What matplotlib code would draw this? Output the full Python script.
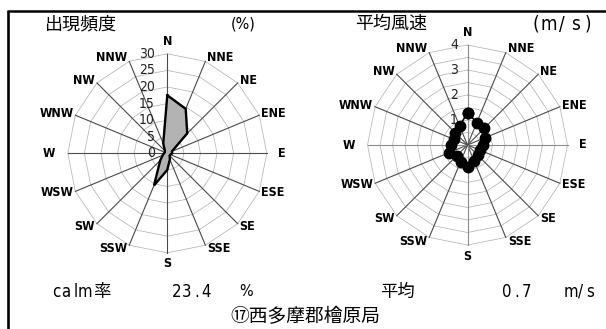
import numpy as np
import matplotlib
matplotlib.use("Agg")
import matplotlib.pyplot as plt
from matplotlib import font_manager
from matplotlib.font_manager import FontProperties
from matplotlib.transforms import offset_copy

# ---------------- data ----------------
directions = ["N", "NNE", "NE", "ENE", "E", "ESE", "SE", "SSE",
              "S", "SSW", "SW", "WSW", "W", "WNW", "NW", "NNW"]
freq_pct = [17.5, 14.5, 8.5, 1.5, 1.5, 1.0, 1.0, 2.0,
            5.0, 10.5, 3.0, 1.5, 1.0, 0.8, 1.0, 3.2]
speed_ms = [1.30, 0.97, 0.95, 0.76, 0.62, 0.56, 0.59, 0.70,
            0.86, 0.72, 0.62, 0.79, 0.65, 0.58, 0.70, 0.82]
freq_rings = [5, 10, 15, 20, 25, 30]
freq_ticks = [0, 5, 10, 15, 20, 25, 30]
speed_rings = [0.5, 1.0, 1.5, 2.0, 2.5, 3.0, 3.5, 4.0]
speed_ticks = [1, 2, 3, 4]
title_freq = "出現頻度"
unit_freq = "(%)"
title_speed = "平均風速"
unit_speed = "(m/s)"
calm_label = "calm"
calm_label_kanji = "率"
calm_value = "23.4"
calm_unit = "%"
mean_label = "平均"
mean_value = "0.7"
mean_unit = "m/s"
station = "⑰西多摩郡檜原局"

# ---------------- fonts ----------------
CJK = "Noto Sans CJK JP"


def pick_narrow(bold):
    best = None
    for f in font_manager.fontManager.ttflist:
        nm = f.name.lower()
        narrow = ("narrow" in nm or "condensed" in nm or
                  str(f.stretch) in ("condensed", "semi-condensed", "extra-condensed", "ultra-condensed")
                  or (isinstance(f.stretch, int) and f.stretch < 500))
        if not narrow or "mono" in nm or ("serif" in nm and "sans" not in nm):
            continue
        if "italic" in str(f.style) or "oblique" in str(f.style):
            continue
        w = f.weight if isinstance(f.weight, int) else (700 if "bold" in str(f.weight) else 400)
        score = abs(w - (700 if bold else 400))
        if "sans" in nm:
            score -= 50
        if best is None or score < best[0]:
            best = (score, f.fname)
    return None if best is None else best[1]


nb = pick_narrow(True)
nr = pick_narrow(False)


def fp_bold(size):
    return FontProperties(fname=nb, size=size) if nb else FontProperties(family="Roboto", weight="bold", size=size - 1)


def fp_reg(size):
    return FontProperties(fname=nr, size=size) if nr else FontProperties(family="Roboto", size=size - 1)


FP_DIR = fp_bold(9.0)
FP_NUM = fp_reg(10)
FP_UNIT = fp_reg(11.5)
FP_PITCH = fp_reg(12.0)
FP_PITCH_BIG = fp_reg(13.5)

W, H = 606, 329
fig = plt.figure(figsize=(W / 100, H / 100), dpi=100)
bg = fig.add_axes([0, 0, 1, 1])
bg.set_xlim(0, W)
bg.set_ylim(H, 0)
bg.axis("off")

theta = np.deg2rad(np.arange(len(directions)) * 22.5)
ux, uy = np.sin(theta), np.cos(theta)


def closed(a):
    a = np.asarray(a, dtype=float)
    return np.append(a, a[0])


def radar(cx, cy, rpx, vmax, rings, ticks, tick_dx, axis_grey, half=135):
    ax = fig.add_axes([(cx - half) / W, (H - cy - half) / H, 2 * half / W, 2 * half / H])
    lim = vmax * half / rpx
    ax.set_xlim(-lim, lim)
    ax.set_ylim(-lim, lim)
    ax.axis("off")
    for r in rings:
        ax.plot(closed(r * ux), closed(r * uy), color="#b4b4b4", lw=0.55, zorder=1)
    for i in range(len(directions)):
        s, c = ux[i], uy[i]
        col = "#4a4a4a"
        if axis_grey and (abs(s) < 1e-6 or abs(c) < 1e-6):
            col = "#8c8c8c"
        ax.plot([0, vmax * s], [0, vmax * c], color=col, lw=0.8, zorder=2)
        if abs(s) < 1e-6:
            ha, dx, dy = "center", 0, (12.5 if c > 0 else -11)
        elif abs(c) < 1e-6:
            ha, dx, dy = ("left" if s > 0 else "right"), (11 if s > 0 else -12.5), 0
        else:
            ha, dx, dy = ("left" if s > 0 else "right"), (2 if s > 0 else -2), 4 * c
        tr = offset_copy(ax.transData, fig=fig, x=dx, y=dy, units="dots")
        ax.text(vmax * s, vmax * c, directions[i], transform=tr, ha=ha, va="center",
                fontproperties=FP_DIR, clip_on=False)
    trt = offset_copy(ax.transData, fig=fig, x=tick_dx, y=0, units="dots")
    for t in ticks:
        ax.text(0, t, str(t), transform=trt, ha="right", va="center",
                fontproperties=FP_NUM, color="#222222", clip_on=False, zorder=5)
    return ax


def pitched(x0, y, s, pitch, fp):
    """Fixed-pitch half-width text, one cell per character."""
    for i, ch in enumerate(s):
        bg.text(x0 + (i + 0.5) * pitch, y, ch, fontproperties=fp, ha="center", va="center")


# left: frequency
axf = radar(167.3, 153.3, 99.5, 30, freq_rings, freq_ticks, -12.5, False)
fx = closed(np.array(freq_pct) * ux)
fy = closed(np.array(freq_pct) * uy)
axf.fill(fx, fy, color="#b3b3b3", zorder=3)
axf.plot(fx, fy, color="black", lw=1.7, zorder=4, solid_joinstyle="miter")

# right: mean speed
axs = radar(467.5, 145.0, 100.0, 4, speed_rings, speed_ticks, -9.5, True)
axs.plot(closed(np.array(speed_ms) * ux), closed(np.array(speed_ms) * uy),
         color="black", lw=1.2, marker="o", ms=7.5, zorder=4)

# ---------------- frame & texts ----------------
bg.plot([8, W], [11, 11], color="black", lw=1.8, solid_capstyle="butt")
bg.plot([8, 8], [10.2, H], color="black", lw=1.9, solid_capstyle="butt")

bg.text(45, 24, title_freq, fontsize=13, family=CJK, ha="left", va="center")
bg.text(231, 24, unit_freq, fontproperties=FP_UNIT, ha="left", va="center")
bg.text(355, 24, title_speed, fontsize=13, family=CJK, ha="left", va="center")
pitched(529, 24, unit_speed, 13.2, FP_PITCH_BIG)

pitched(52, 292, calm_label, 9.4, FP_PITCH)
bg.text(93, 292, calm_label_kanji, fontsize=12.5, family=CJK, ha="left", va="center")
pitched(172, 292, calm_value, 9.8, FP_PITCH)
bg.text(239, 292, calm_unit, fontproperties=FP_UNIT, ha="left", va="center")
bg.text(380, 292, mean_label, fontsize=12.5, family=CJK, ha="left", va="center")
pitched(502, 292, mean_value, 9.8, FP_PITCH)
pitched(566, 292, mean_unit, 9.8, FP_PITCH)
bg.text(305, 317, station, fontsize=13.5, family=CJK, ha="center", va="center")

fig.savefig("out.png", dpi=100)
